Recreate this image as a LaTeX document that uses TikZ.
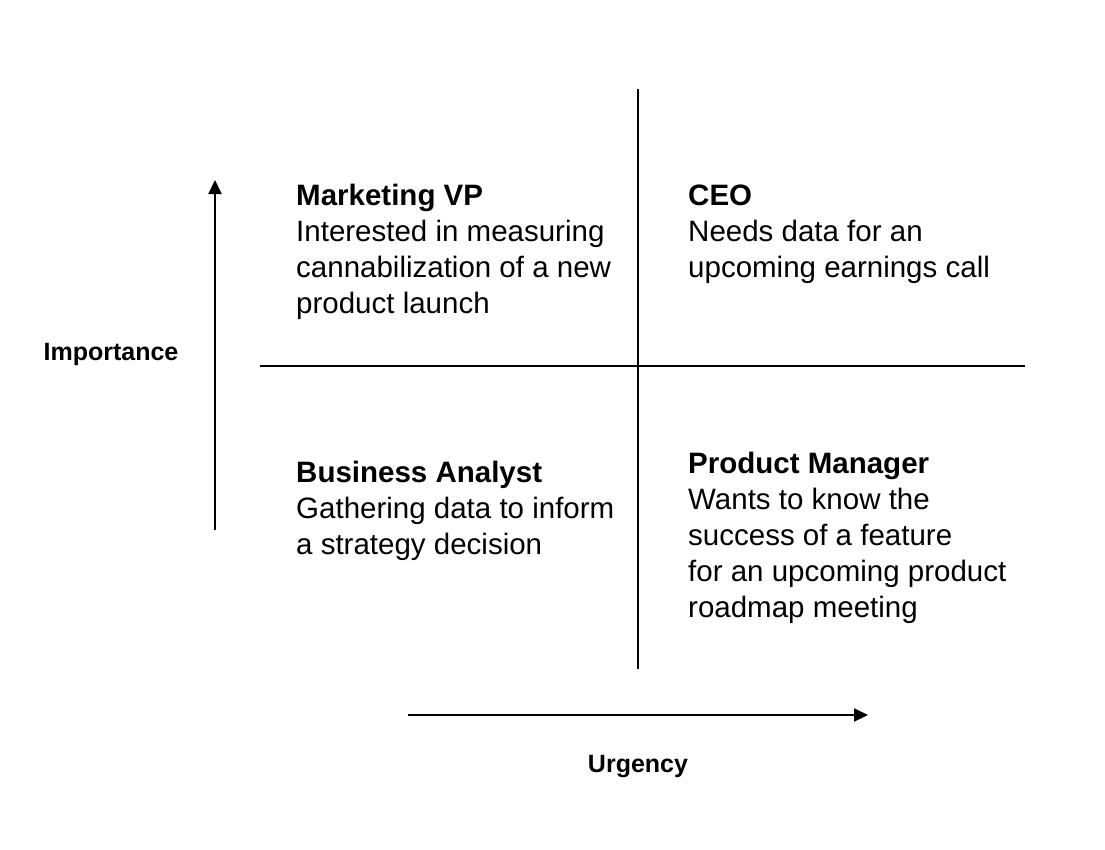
\documentclass[tikz,border=0pt]{standalone}
\usepackage{fontspec}
\setmainfont{Liberation Sans}
\usetikzlibrary{arrows.meta,positioning}
\begin{document}
\begin{tikzpicture}[x=1pt,y=-1pt]
            \tikzstyle{quad} = [anchor=base west, inner sep=0pt, align=left, font=\fontsize{29.5}{36}\selectfont]
            \tikzstyle{axislabel} = [inner sep=0pt, anchor=base, font=\fontsize{25}{30}\selectfont\bfseries]
            \tikzstyle{arrow} = [line width=2pt,-{Triangle[length=14pt,width=13pt]}]
            \tikzstyle{divider} = [line width=1.6pt]
            \useasboundingbox (0,0) rectangle (1105,849);

            % base anchor sits on the last line of each block
            \node (vp) [quad] at (296,313) {\textbf{Marketing VP}\\Interested in measuring\\cannabilization of a new\\product launch};
            \node (ceo) [quad] at (688,277) {\textbf{CEO}\\Needs data for an\\upcoming earnings call};
            \node (ba) [quad] at (296,554) {\textbf{Business Analyst}\\Gathering data to inform\\a strategy decision};
            \node (pm) [quad] at (688,617) {\textbf{Product Manager}\\Wants to know the\\success of a feature\\for an upcoming product\\roadmap meeting};

            \node (imp) [axislabel] at (111,360) {Importance};
            \node (urg) [axislabel] at (638,772) {Urgency};

            \coordinate (vtop) at (638,89);
            \coordinate (vbot) at (638,669);
            \coordinate (hleft) at (260,366);
            \coordinate (hright) at (1025,366);
            \coordinate (impfrom) at (215,530);
            \coordinate (impto) at (215,180);
            \coordinate (urgfrom) at (408,715);
            \coordinate (urgto) at (868,715);

            \draw[divider] (vtop) -- (vbot);
            \draw[divider] (hleft) -- (hright);
            \draw[arrow] (impfrom) -- (impto);
            \draw[arrow] (urgfrom) -- (urgto);
\end{tikzpicture}
\end{document}
